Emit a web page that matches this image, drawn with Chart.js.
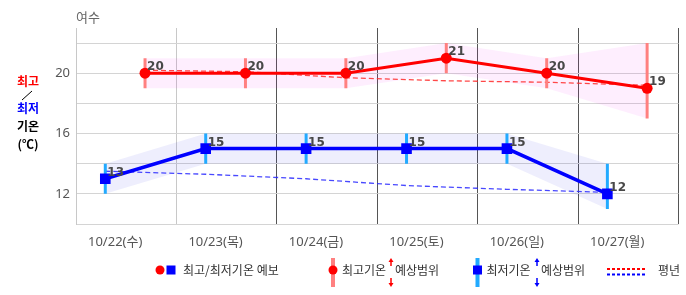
<!DOCTYPE html>
<html>
<head>
<meta charset="utf-8">
<script src="https://cdn.jsdelivr.net/npm/chart.js@4/dist/chart.umd.min.js"></script>
<style>
    html, body { margin: 0; padding: 0; background: #fff; }
    #wrap { width: 686px; height: 295px; position: relative; }
</style>
</head>
<body>
<div id="wrap"><canvas id="chart1" width="686" height="295"></canvas></div>
<script>
// 여수 - 최고/최저기온 예보
const days = ['10/22(수)', '10/23(목)', '10/24(금)', '10/25(토)', '10/26(일)', '10/27(월)'];
const maxTemp = [20, 20, 20, 21, 20, 19];
const minTemp = [13, 15, 15, 15, 15, 12];
// 예상범위
const maxHi = [21, 21, 21, 22, 21, 22];
const maxLo = [19, 19, 19, 20, 19, 17];
const minHi = [14, 16, 16, 16, 16, 14];
const minLo = [12, 14, 14, 14, 14, 11];
// 평년
const maxNormal = [20.2, 20.1, 19.7, 19.5, 19.4, 19.2];
const minNormal = [13.5, 13.3, 13.0, 12.55, 12.3, 12.1];
// hour of day for min / max
const minHour = 7;
const maxHour = 16.5;
const yLabels = [12, 16, 20];

function pts(arr, hour) {
    return arr.map((v, i) => ({x: i + hour / 24, y: v}));
}

function rangePts(lo, hi, hour) {
    var out = [];
    lo.forEach((v, i) => {
        var x = i + hour / 24;
        out.push({x: x, y: v}, {x: x, y: hi[i]}, {x: x, y: null});
    });
    return out;
}

const extraDraw = {
    id: 'extraDraw',
    afterDatasetsDraw(chart) {
        const ctx = chart.ctx;
        ctx.save();
        // value labels
        ctx.font = 'bold 12px "DejaVu Sans"';
        ctx.fillStyle = '#484848';
        ctx.textAlign = 'left';
        ctx.textBaseline = 'alphabetic';
        [[8, maxTemp], [9, minTemp]].forEach(function (d) {
            chart.getDatasetMeta(d[0]).data.forEach(function (p, i) {
                ctx.fillText(String(d[1][i]), p.x + 2, p.y - 3);
            });
        });
        ctx.restore();
    },
    afterDraw(chart) {
        const ctx = chart.ctx;
        ctx.save();
        // title
        ctx.font = '13px "Noto Sans CJK KR"';
        ctx.fillStyle = '#666';
        ctx.textBaseline = 'middle';
        ctx.textAlign = 'left';
        ctx.fillText('여수', 76, 17);

        // left axis label
        ctx.font = 'bold 12px "Noto Sans CJK KR"';
        ctx.textAlign = 'center';
        ctx.fillStyle = '#ff0000';
        ctx.fillText('최고', 28, 81);
        ctx.strokeStyle = '#000';
        ctx.lineWidth = 1;
        ctx.beginPath();
        ctx.moveTo(22, 100);
        ctx.lineTo(32, 91);
        ctx.stroke();
        ctx.fillStyle = '#0000ff';
        ctx.fillText('최저', 28, 108);
        ctx.fillStyle = '#000';
        ctx.fillText('기온', 28, 126);
        ctx.fillText('(℃)', 28, 144);

        // bottom legend
        ctx.font = '12px "Noto Sans CJK KR"';
        ctx.fillStyle = '#333';
        ctx.textAlign = 'left';
        const ly = 270;

        ctx.fillStyle = '#ff0000';
        ctx.beginPath();
        ctx.arc(160, ly, 4.5, 0, Math.PI * 2);
        ctx.fill();
        ctx.fillStyle = '#0000ff';
        ctx.fillRect(166.5, ly - 4.5, 9, 9);
        ctx.fillStyle = '#333';
        ctx.fillText('최고/최저기온 예보', 183, ly);

        function rangeItem(x, barColor, markColor, isRect, t1, arrowX, t2) {
            ctx.fillStyle = barColor;
            ctx.fillRect(x - 2, 258, 4, 29);
            ctx.fillStyle = markColor;
            if (isRect) {
                ctx.fillRect(x - 4.5, ly - 4.5, 9, 9);
            } else {
                ctx.beginPath();
                ctx.arc(x, ly, 4.5, 0, Math.PI * 2);
                ctx.fill();
            }
            ctx.fillStyle = '#333';
            ctx.fillText(t1, x + 9, ly);
            ctx.fillText(t2, arrowX + 4, ly);
            ctx.strokeStyle = markColor;
            ctx.fillStyle = markColor;
            ctx.lineWidth = 1.5;
            ctx.beginPath();
            ctx.moveTo(arrowX, 261);
            ctx.lineTo(arrowX, 266);
            ctx.moveTo(arrowX, 278);
            ctx.lineTo(arrowX, 284);
            ctx.stroke();
            ctx.beginPath();
            ctx.moveTo(arrowX, 258);
            ctx.lineTo(arrowX - 2.5, 262);
            ctx.lineTo(arrowX + 2.5, 262);
            ctx.closePath();
            ctx.moveTo(arrowX, 287);
            ctx.lineTo(arrowX - 2.5, 283);
            ctx.lineTo(arrowX + 2.5, 283);
            ctx.closePath();
            ctx.fill();
        }
        rangeItem(333, '#ff8080', '#ff0000', false, '최고기온', 391, '예상범위');
        rangeItem(477.5, '#22aaff', '#0000ff', true, '최저기온', 537, '예상범위');

        ctx.lineWidth = 2;
        ctx.setLineDash([3, 2]);
        ctx.strokeStyle = '#ff0000';
        ctx.beginPath();
        ctx.moveTo(607, 269);
        ctx.lineTo(647, 269);
        ctx.stroke();
        ctx.strokeStyle = '#0000ff';
        ctx.beginPath();
        ctx.moveTo(607, 274.5);
        ctx.lineTo(647, 274.5);
        ctx.stroke();
        ctx.setLineDash([]);
        ctx.fillStyle = '#333';
        ctx.fillText('평년', 658, ly);
        ctx.restore();
    }
};

const tempData = {
    datasets: [
        {
            label: 'maxHi', data: pts(maxHi, maxHour), fill: '+1',
            backgroundColor: 'rgba(240, 0, 240, 0.065)', borderWidth: 0, pointRadius: 0, order: 20
        },
        {
            label: 'maxLo', data: pts(maxLo, maxHour), fill: false,
            borderWidth: 0, pointRadius: 0, order: 20
        },
        {
            label: 'minHi', data: pts(minHi, minHour), fill: '+1',
            backgroundColor: 'rgba(0, 0, 230, 0.065)', borderWidth: 0, pointRadius: 0, order: 20
        },
        {
            label: 'minLo', data: pts(minLo, minHour), fill: false,
            borderWidth: 0, pointRadius: 0, order: 20
        },
        {
            label: 'maxNormal', data: pts(maxNormal, maxHour), borderColor: 'rgba(255, 40, 40, 0.85)',
            borderWidth: 1.3, borderDash: [5, 3], pointRadius: 0, fill: false, order: 15
        },
        {
            label: 'minNormal', data: pts(minNormal, minHour), borderColor: 'rgba(40, 40, 255, 0.85)',
            borderWidth: 1.3, borderDash: [5, 3], pointRadius: 0, fill: false, order: 15
        },
        {
            label: 'maxRange', data: rangePts(maxLo, maxHi, maxHour), borderColor: '#ff8080',
            borderWidth: 3, pointRadius: 0, spanGaps: false, fill: false, order: 10
        },
        {
            label: 'minRange', data: rangePts(minLo, minHi, minHour), borderColor: '#22aaff',
            borderWidth: 3, pointRadius: 0, spanGaps: false, fill: false, order: 10
        },
        {
            label: '최고기온', data: pts(maxTemp, maxHour), borderColor: '#ff0000',
            backgroundColor: '#ff0000', borderWidth: 3, pointStyle: 'circle', pointRadius: 5.5,
            pointBorderWidth: 0, fill: false, order: 2
        },
        {
            label: '최저기온', data: pts(minTemp, minHour), borderColor: '#0000ff',
            backgroundColor: '#0000ff', borderWidth: 3.5, pointStyle: 'rect', pointRadius: 7.5,
            pointBorderWidth: 0, fill: false, order: 1
        }
    ]
};

const config = {
    type: 'line',
    data: tempData,
    options: {
        responsive: false,
        animation: false,
        events: [],
        layout: {
            padding: {top: 28, right: 4, bottom: 0, left: 0}
        },
        scales: {
            x: {
                type: 'linear', position: 'bottom', min: 0, max: 6,
                afterBuildTicks: function (axis) {
                    axis.ticks = days.map((d, i) => ({value: i})).concat([{value: days.length}]);
                },
                afterFit: function (s) {
                    s.height = 0;
                    s.paddingLeft = 0;
                    s.paddingRight = 0;
                },
                ticks: {display: false},
                grid: {
                    drawTicks: false,
                    color: ctx => ctx.index < 2 ? '#c8c8c8' : '#555555',
                    lineWidth: 1
                },
                border: {display: false}
            },
            xl: {
                type: 'linear', position: 'bottom', min: 0, max: 6,
                afterBuildTicks: function (axis) {
                    axis.ticks = days.map((d, i) => ({value: i + 0.39}));
                },
                afterFit: function (s) {
                    s.height = 71;
                    s.paddingLeft = 0;
                    s.paddingRight = 0;
                },
                ticks: {
                    autoSkip: false, maxRotation: 0, padding: 2,
                    color: '#555',
                    font: {family: '"Noto Sans", "Noto Sans CJK KR"', size: 13},
                    callback: (v, i) => days[i]
                },
                grid: {display: false},
                border: {display: false}
            },
            y: {
                min: 10, max: 23,
                afterFit: function (s) { s.width = 76; },
                ticks: {
                    stepSize: 1, padding: 6, color: '#555',
                    font: {family: '"Noto Sans"', size: 13},
                    callback: v => yLabels.includes(v) ? String(v) : ''
                },
                grid: {
                    drawTicks: false,
                    color: ctx => ctx.tick && ctx.tick.value === 23 ? '#bbbbbb' : '#d4d4d4',
                    lineWidth: ctx => ctx.tick && ctx.tick.value === 23 ? 2 : 1
                },
                border: {color: '#c8c8c8'}
            }
        },
        plugins: {
            legend: {display: false},
            title: {display: false},
            tooltip: {enabled: false}
        }
    },
    plugins: [extraDraw]
};

var myChart = new Chart(document.getElementById('chart1'), config);
</script>
</body>
</html>
